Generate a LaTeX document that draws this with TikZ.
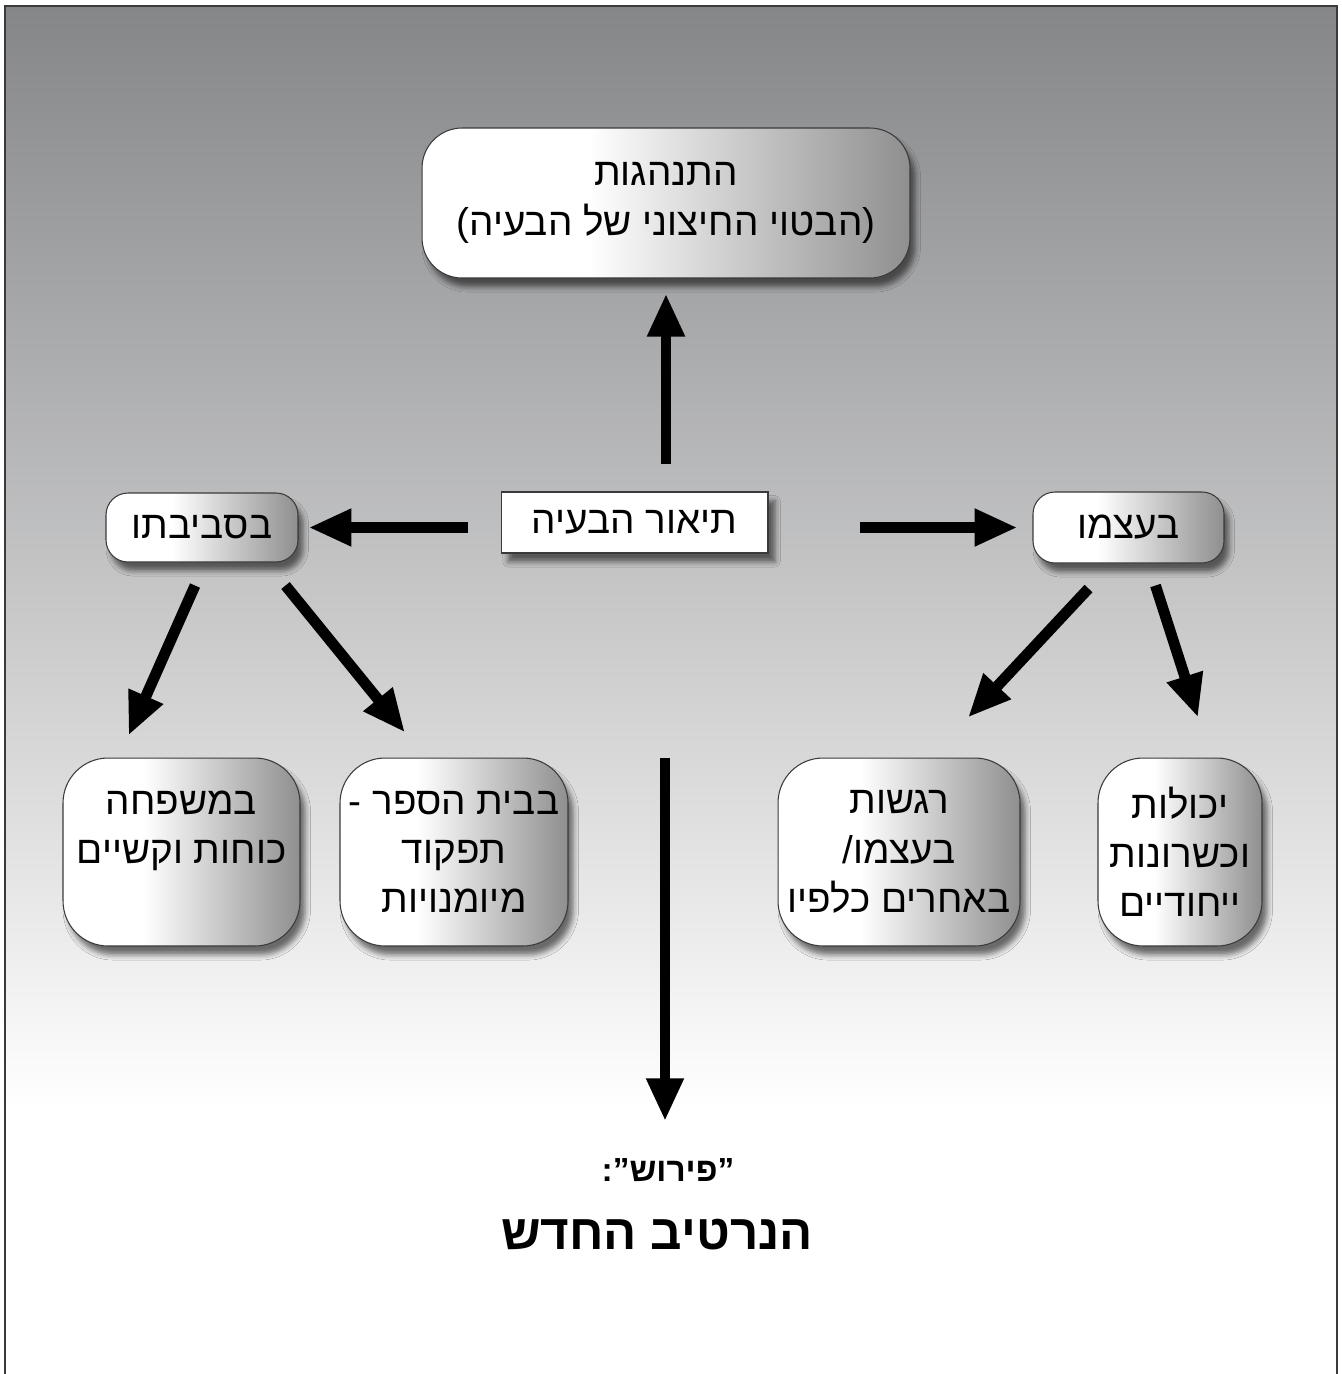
\documentclass[tikz,border=0pt]{standalone}
\usepackage{fontspec}
\usepackage{tikz}
\usetikzlibrary{arrows.meta,shadows.blur}
\newfontfamily\hebfont[Script=Hebrew]{Liberation Sans}
\TeXXeTstate=1
\newcommand{\rtl}[1]{\beginR #1\endR}
\definecolor{bgtop}{RGB}{133,134,136}
\definecolor{edge}{RGB}{58,58,60}
\pgfdeclarehorizontalshading{boxshade}{100bp}{color(0bp)=(white); color(25bp)=(white); color(42bp)=(white); color(75bp)=(black!44); color(100bp)=(black!44)}

\begin{document}
\begin{tikzpicture}[x=0.02cm,y=-0.02cm,
	box/.style={draw=edge, line width=0.6pt, shade, shading=boxshade, align=center, inner sep=0pt,
		blur shadow={shadow xshift=3pt, shadow yshift=-5pt, shadow blur radius=3pt, shadow opacity=55},
		font=\hebfont\fontsize{22}{28}\selectfont},
	bigarrow/.style={line width=6.2pt, -{Triangle[length=0.86cm, width=0.7cm]}}]

	% all coordinates below are pixels of the page, y counted downwards
	\useasboundingbox (0,0) rectangle (1342,1374);

	\shade[top color=bgtop, bottom color=white] (5,6) rectangle (1337,1110);
	\draw[edge, line width=1.2pt] (5,1374) -- (5,6) -- (1337,6) -- (1337,1374);

	\node[box, rounded corners=0.8cm, minimum width=9.76cm, minimum height=3cm] (behav) at (666,203)
		{\rtl{התנהגות}\\\rtl{\hbox{(}הבטוי החיצוני של הבעיה\hbox{)}}};

	\node[draw=edge, fill=white, line width=0.6pt, minimum width=5.34cm, minimum height=1.22cm, inner sep=0pt,
		blur shadow={shadow xshift=4pt, shadow yshift=-5pt, shadow blur radius=3pt, shadow opacity=55},
		font=\hebfont\fontsize{22}{28}\selectfont] (desc) at (634.5,522.5) {\rtl{תיאור הבעיה}};

	\node[box, rounded corners=0.44cm, minimum width=3.84cm, minimum height=1.38cm] (env) at (202,527.5) {\rtl{בסביבתו}};
	\node[box, rounded corners=0.44cm, minimum width=3.82cm, minimum height=1.42cm] (self) at (1128.5,527.5) {\rtl{בעצמו}};

	% the four boxes of the lower row, three lines each
	\node[box, rounded corners=0.9cm, minimum width=4.74cm, minimum height=3.76cm] (fam) at (181.5,852)
		{\rtl{במשפחה}\\\rtl{כוחות וקשיים}\\~};
	\node[box, rounded corners=0.9cm, minimum width=4.56cm, minimum height=3.76cm] (school) at (454,852)
		{\rtl{בבית הספר -}\\\rtl{תפקוד}\\\rtl{מיומנויות}};
	\node[box, rounded corners=0.9cm, minimum width=4.84cm, minimum height=3.76cm] (feel) at (899,852)
		{\rtl{רגשות}\\\rtl{בעצמו/}\\\rtl{באחרים כלפיו}};
	\node[box, rounded corners=0.9cm, minimum width=3.28cm, minimum height=3.76cm] (abil) at (1180,852)
		{\rtl{יכולות}\\\rtl{וכשרונות}\\\rtl{ייחודיים}};

	\node[font=\hebfont\bfseries\fontsize{19}{23}\selectfont] (peirush) at (668,1170) {\rtl{”פירוש”:}};
	\node[font=\hebfont\bfseries\fontsize{28}{32}\selectfont] (narr) at (657,1235) {\rtl{הנרטיב החדש}};

	\draw[bigarrow, shorten <=0.54cm, shorten >=0.3cm] (behav.south |- desc.north) -- (behav.south);
	\draw[bigarrow, shorten <=0.66cm, shorten >=0.2cm] (env.east -| desc.west) -- (env.east);
	\draw[bigarrow, shorten <=1.84cm, shorten >=0.3cm] (self.west -| desc.east) -- (self.west);
	\draw[bigarrow] ([shift={(-7,23)}]env.south) -- ([shift={(-53,-22)}]fam.north);
	\draw[bigarrow] ([shift={(-13,23)}]env.south east) -- ([shift={(-49,-25)}]school.north);
	\draw[bigarrow] ([shift={(-40,25)}]self.south) -- ([shift={(69,-40)}]feel.north);
	\draw[bigarrow] ([shift={(27,22)}]self.south) -- ([shift={(18,-40)}]abil.north);
	\draw[bigarrow, shorten >=0.62cm] ([xshift=-0.06cm]peirush.north |- fam.north) -- ([xshift=-0.06cm]peirush.north);

\end{tikzpicture}
\end{document}
